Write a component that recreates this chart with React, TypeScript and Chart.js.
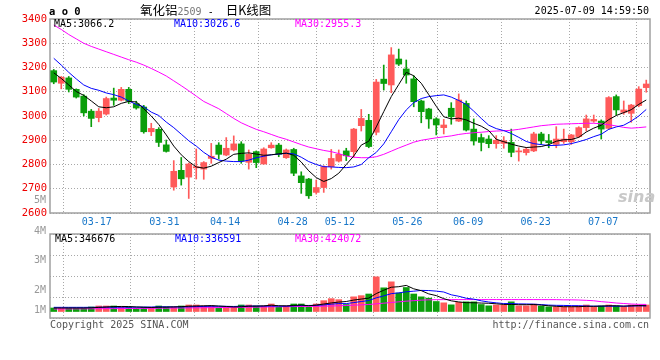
import React, { useEffect, useRef } from "react";
import { Chart, registerables } from "chart.js";
Chart.register(...registerables);

const dates = [
  "03-13","03-14","03-17","03-18","03-19","03-20","03-21","03-24","03-25","03-26","03-27","03-28","03-31",
  "04-01","04-02","04-03","04-07","04-08","04-09","04-10","04-11","04-14","04-15","04-16","04-17","04-18",
  "04-21","04-22","04-23","04-24","04-25","04-28","04-29","04-30",
  "05-06","05-07","05-08","05-09","05-12","05-13","05-14","05-15","05-16","05-19","05-20","05-21","05-22","05-23",
  "05-26","05-27","05-28","05-29","05-30",
  "06-03","06-04","06-05","06-06","06-09","06-10","06-11","06-12","06-13","06-16","06-17","06-18","06-19","06-20",
  "06-23","06-24","06-25","06-26","06-27","06-30",
  "07-01","07-02","07-03","07-04","07-07","07-08","07-09",
];
const dateTicks = ["03-17","03-31","04-14","04-28","05-12","05-26","06-09","06-23","07-07"];

const openP = [3187,3135,3157,3110,3082,3020,2993,3008,3074,3065, 3110,3051,3037,2935,2945,2881,2707,2776,2748,2786,
  2781,2825,2880,2839,2860,2885,2809,2853,2802,2869, 2880,2828,2862,2753,2740,2685,2705,2791,2814,2856,
  2853,2960,2982,2933,3152,3128,3235,3194,3153,3062, 3029,2988,2952,3032,2979,3052,2946,2911,2905,2886,
  2887,2891,2852,2849,2856,2926,2898,2883,2894,2894, 2915,2952,2979,2979,2949,3080,3015,3011,3043,3117];
const highP = [3192,3163,3163,3112,3088,3027,3031,3078,3115,3118, 3118,3061,3044,2970,2952,2901,2816,2829,2806,2864,
  2812,2887,2890,2911,2918,2894,2860,2856,2869,2890, 2887,2864,2867,2770,2743,2736,2795,2862,2860,2867,
  2949,3027,3007,3151,3210,3282,3276,3231,3166,3066, 3032,2993,2986,3055,3091,3062,2988,2926,2919,2919,
  2915,2946,2869,2869,2933,2933,2924,2956,2946,2924, 2956,3004,3004,2984,3080,3087,3062,3048,3121,3148];
const lowP = [3133,3112,3099,3074,3000,2956,2976,3004,3044,3062, 3051,3028,2929,2919,2874,2851,2694,2715,2660,2740,
  2739,2805,2823,2836,2856,2805,2781,2787,2802,2867, 2832,2825,2754,2681,2660,2678,2685,2781,2810,2816,
  2830,2938,2869,2922,3107,3096,3208,3135,3038,2972, 2949,2922,2926,2966,2977,2938,2880,2856,2869,2867,
  2867,2832,2814,2839,2853,2883,2869,2869,2887,2883, 2911,2938,2974,2905,2945,3004,3007,2974,3038,3098];
const closeP = [3140,3160,3110,3078,3013,2990,3020,3072,3065,3110, 3061,3033,2935,2949,2891,2854,2772,2741,2802,2791,
  2808,2834,2842,2867,2885,2814,2842,2808,2864,2880, 2842,2860,2764,2725,2671,2705,2791,2825,2842,2836,
  2946,2990,2874,3140,3134,3252,3214,3169,3059,3018, 2988,2963,2963,2997,3066,2942,2897,2891,2886,2900,
  2898,2850,2856,2863,2926,2897,2890,2905,2905,2922, 2952,2988,2986,2946,3076,3025,3025,3045,3111,3132];

const ma5 = [3178,3155,3128,3101,3085,3062,3038,3034,3038,3052, 3060,3058,3030,3000,2965,2922,2876,2840,2812,2790,
  2785,2793,2808,2822,2842,2846,2848,2843,2838,2840, 2844,2847,2838,2810,2774,2746,2730,2742,2764,2800,
  2835,2880,2896,2955,3018,3080,3130,3180,3166,3135, 3088,3040,2997,2988,2991,2984,2970,2958,2940,2904,
  2894,2884,2876,2870,2872,2874,2882,2896,2902,2903, 2912,2934,2950,2962,2985,3002,3014,3026,3048,3066];
const ma10 = [3238,3210,3180,3153,3128,3114,3106,3095,3088,3078, 3062,3048,3038,3016,3002,2975,2952,2925,2898,2876,
  2850,2830,2818,2814,2812,2812,2818,2828,2834,2840, 2843,2846,2844,2830,2812,2800,2791,2790,2788,2787,
  2790,2800,2828,2850,2885,2935,2985,3025,3055,3072, 3080,3084,3087,3078,3064,3048,3020,2990,2962,2948,
  2940,2928,2912,2895,2886,2882,2878,2879,2881,2886, 2894,2903,2915,2925,2945,2955,2962,2979,3000,3027];
const ma30 = [3375,3357,3336,3318,3300,3287,3276,3265,3254,3243, 3232,3222,3210,3196,3181,3165,3145,3125,3104,3082,
  3060,3045,3030,3010,2990,2972,2958,2945,2935,2924, 2913,2904,2893,2882,2872,2865,2858,2853,2845,2835,
  2830,2828,2828,2832,2842,2855,2868,2880,2892,2900, 2905,2910,2914,2918,2924,2928,2931,2933,2936,2938,
  2939,2941,2945,2950,2955,2960,2963,2966,2967,2968, 2969,2970,2970,2968,2964,2959,2953,2950,2952,2955];

const volume = [210000,210000,210000,210000,210000,270000,330000,330000,330000,250000,
  250000,210000,250000,250000,330000,270000,270000,330000,390000,390000,
  330000,330000,210000,250000,250000,390000,390000,330000,330000,450000,
  250000,330000,450000,450000,250000,450000,650000,770000,710000,420000,
  880000,950000,1050000,2080000,1420000,1780000,1110000,1440000,1050000,880000,
  800000,600000,520000,400000,550000,580000,580000,420000,340000,390000,
  390000,580000,340000,340000,440000,320000,280000,280000,280000,280000,
  330000,390000,280000,330000,390000,330000,280000,390000,390000,390000];
const volMa5 = [210000,210000,210000,210000,210000,222000,246000,270000,294000,302000,
  298000,274000,258000,242000,258000,262000,276000,290000,318000,330000,
  342000,354000,330000,302000,274000,286000,318000,322000,338000,378000,
  346000,338000,362000,386000,346000,386000,450000,514000,566000,600000,
  686000,746000,802000,1076000,1276000,1456000,1488000,1566000,1360000,1252000,
  1056000,954000,770000,640000,574000,530000,526000,506000,494000,462000,
  424000,424000,408000,408000,418000,384000,344000,312000,288000,288000,
  290000,312000,312000,322000,344000,344000,322000,344000,356000,346676];
const volMa10 = [250000,250000,250000,250000,250000,252000,254000,256000,256000,256000,
  260000,260000,264000,268000,280000,280000,274000,274000,280000,294000,
  302000,314000,310000,310000,302000,314000,326000,326000,320000,326000,
  318000,318000,342000,362000,362000,368000,394000,438000,476000,473000,
  536000,598000,658000,821000,938000,1071000,1117000,1184000,1218000,1266000,
  1258000,1223000,1170000,1002000,915000,795000,742000,640000,569000,520000,
  477000,475000,457000,451000,440000,414000,384000,370000,364000,353000,
  347000,328000,322000,321000,316000,317000,317000,328000,339000,336591];
const volMa30 = [150000,152000,155000,158000,160000,163000,166000,170000,173000,176000,
  180000,183000,186000,190000,195000,200000,205000,210000,215000,220000,
  225000,230000,235000,240000,245000,250000,255000,262000,270000,280000,
  285000,290000,295000,300000,305000,310000,320000,330000,345000,360000,
  380000,400000,420000,460000,500000,540000,580000,620000,650000,680000,
  700000,710000,712000,715000,715000,715000,715000,715000,715000,715000,
  715000,715000,715000,715000,715000,712000,712000,710000,700000,700000,
  690000,670000,645000,590000,555000,510000,480000,450000,430000,424072];

const priceMin = 2600;
const priceMax = 3400;
const volMin = -390000;
const volMax = 4650000;
const volGrid = [-390000, 870000, 2130000, 3390000, 4650000];

const MONO = '"DejaVu Sans Mono", "Liberation Mono", monospace';
const CJK = '"Noto Sans CJK SC", "Noto Sans", sans-serif';
const UP = "#ff5a5a";
const DN = "#0b9e0b";
const GRID = "#a8a8a8";

const candleColors = closeP.map((c, i) => (c >= openP[i] ? UP : DN));

const framePlugin = {
  id: "frame",
  beforeDatasetsDraw(chart: any) {
    const { ctx, chartArea: a } = chart;
    ctx.save();
    ctx.strokeStyle = "#a0a0a0";
    ctx.lineWidth = 1.5;
    ctx.strokeRect(a.left, a.top, a.right - a.left, a.bottom - a.top);
    ctx.restore();
  },
};

const dateAxis = (showLabels: boolean) => ({
  type: "linear",
  position: "bottom",
  min: 0,
  max: dates.length - 1,
  afterBuildTicks: (s: any) => {
    s.ticks = dateTicks.map((d) => ({ value: dates.indexOf(d) }));
  },
  afterFit: (s: any) => {
    s.height = showLabels ? 19 : 0;
  },
  ticks: {
    display: showLabels,
    autoSkip: false,
    maxRotation: 0,
    color: "#1877c9",
    font: { family: MONO, size: 10 },
    padding: 3,
    callback: (v: any) => dates[v],
  },
  grid: { color: GRID, drawTicks: false },
  border: { display: false, dash: [1, 2] },
});

function PriceChart() {
  const ref = useRef<HTMLCanvasElement>(null);
  useEffect(() => {
    const chart = new Chart(ref.current as HTMLCanvasElement, {
      type: "bar",
      data: {
        labels: dates,
        datasets: [
          { type: "line", data: ma5, borderColor: "#000000", borderWidth: 1, pointRadius: 0, order: 0, xAxisID: "x", yAxisID: "y" } as any,
          { type: "line", data: ma10, borderColor: "#0000ff", borderWidth: 1, pointRadius: 0, order: 0, xAxisID: "x", yAxisID: "y" } as any,
          { type: "line", data: ma30, borderColor: "#ff00ff", borderWidth: 1, pointRadius: 0, order: 0, xAxisID: "x", yAxisID: "y" } as any,
          { type: "bar", data: lowP.map((l, i) => [l, highP[i]]), backgroundColor: candleColors, barThickness: 1, grouped: false, order: 2, xAxisID: "x", yAxisID: "y" } as any,
          { type: "bar", data: openP.map((o, i) => [o, closeP[i]]), backgroundColor: candleColors, barThickness: 6, minBarLength: 1, grouped: false, order: 1, xAxisID: "x", yAxisID: "y" } as any,
        ],
      },
      options: {
        responsive: false,
        animation: false,
        devicePixelRatio: 1,
        layout: { padding: { left: 0, right: 10, top: 19, bottom: 0 } },
        plugins: { legend: { display: false }, tooltip: { enabled: false } },
        scales: {
          x: { type: "category", display: false, offset: true },
          xd: dateAxis(true) as any,
          y: {
            min: priceMin,
            max: priceMax,
            afterFit: (s: any) => { s.width = 50; },
            ticks: { stepSize: 100, color: "#ee0000", font: { family: MONO, size: 10.5 }, padding: 3, callback: (v: any) => String(v) },
            grid: { color: GRID, drawTicks: false },
            border: { display: false, dash: [1, 2] },
          },
        },
      } as any,
      plugins: [framePlugin],
    });
    return () => chart.destroy();
  }, []);
  return <canvas ref={ref} width={660} height={232} style={{ position: "absolute", left: 0, top: 0 }} />;
}

function VolumeChart() {
  const ref = useRef<HTMLCanvasElement>(null);
  useEffect(() => {
    const chart = new Chart(ref.current as HTMLCanvasElement, {
      type: "bar",
      data: {
        labels: dates,
        datasets: [
          { type: "line", data: volMa5, borderColor: "#000000", borderWidth: 1, pointRadius: 0, order: 0, xAxisID: "x", yAxisID: "y" } as any,
          { type: "line", data: volMa10, borderColor: "#0000ff", borderWidth: 1, pointRadius: 0, order: 0, xAxisID: "x", yAxisID: "y" } as any,
          { type: "line", data: volMa30, borderColor: "#ff00ff", borderWidth: 1, pointRadius: 0, order: 0, xAxisID: "x", yAxisID: "y" } as any,
          { type: "bar", data: volume, backgroundColor: candleColors, barThickness: 6, grouped: false, order: 1, xAxisID: "x", yAxisID: "y" } as any,
        ],
      },
      options: {
        responsive: false,
        animation: false,
        devicePixelRatio: 1,
        layout: { padding: { left: 0, right: 10, top: 8, bottom: 8 } },
        plugins: { legend: { display: false }, tooltip: { enabled: false } },
        scales: {
          x: { type: "category", display: false, offset: true },
          xd: dateAxis(false) as any,
          y: {
            min: volMin,
            max: volMax,
            afterBuildTicks: (s: any) => { s.ticks = volGrid.map((v) => ({ value: v })); },
            afterFit: (s: any) => { s.width = 50; },
            ticks: { display: false },
            grid: { color: GRID, drawTicks: false },
            border: { display: false, dash: [1, 2] },
          },
        },
      } as any,
      plugins: [framePlugin],
    });
    return () => chart.destroy();
  }, []);
  return <canvas ref={ref} width={660} height={100} style={{ position: "absolute", left: 0, top: 226 }} />;
}

type TP = { x: number; y: number; children: React.ReactNode; color?: string; size?: number; family?: string; weight?: string | number; right?: boolean };
function T({ x, y, children, color = "#000", size = 10, family = MONO, weight = "normal", right = false }: TP) {
  const style: React.CSSProperties = {
    position: "absolute",
    top: y,
    transform: "translateY(-50%)",
    color,
    fontSize: size,
    fontFamily: family,
    fontWeight: weight as any,
    lineHeight: 1,
    whiteSpace: "pre",
  };
  if (right) style.right = 660 - x;
  else style.left = x;
  return <div style={style}>{children}</div>;
}

export default function App() {
  return (
    <div style={{ position: "absolute", left: 0, top: 0, width: 660, height: 360, background: "#fff", overflow: "hidden" }}>
      <PriceChart />
      <VolumeChart />
      <T x={49} y={11} size={10.5} weight="bold">a o 0</T>
      <div style={{ position: "absolute", left: 140, top: 10, transform: "translateY(-50%)", whiteSpace: "pre", lineHeight: 1, color: "#000" }}>
        <span style={{ fontFamily: CJK, fontSize: 12.5 }}>氧化铝</span>
        <span style={{ fontFamily: MONO, fontSize: 10, color: "#777" }}>2509</span>
        <span style={{ fontFamily: MONO, fontSize: 10 }}> -  </span>
        <span style={{ fontFamily: CJK, fontSize: 12.5 }}>日K线图</span>
      </div>
      <T x={649} y={11} right>2025-07-09 14:59:50</T>
      <T x={54} y={24}>MA5:3066.2</T>
      <T x={174} y={24} color="#0000ff">MA10:3026.6</T>
      <T x={295} y={24} color="#ff00ff">MA30:2955.3</T>
      <T x={46} y={200} right color="#999">5M</T>
      <T x={46} y={231} right color="#999">4M</T>
      <T x={46} y={260} right color="#999">3M</T>
      <T x={46} y={290} right color="#999">2M</T>
      <T x={46} y={310} right color="#999">1M</T>
      <T x={55} y={239}>MA5:346676</T>
      <T x={175} y={239} color="#0000ff">MA10:336591</T>
      <T x={295} y={239} color="#ff00ff">MA30:424072</T>
      <T x={50} y={325} color="#555">Copyright 2025 SINA.COM</T>
      <T x={649} y={325} right color="#555">http://finance.sina.com.cn</T>
      <T x={618} y={197} color="#c8c8c8" size={16} family={'"DejaVu Sans", sans-serif'} weight="bold"><i>sina</i></T>
    </div>
  );
}
